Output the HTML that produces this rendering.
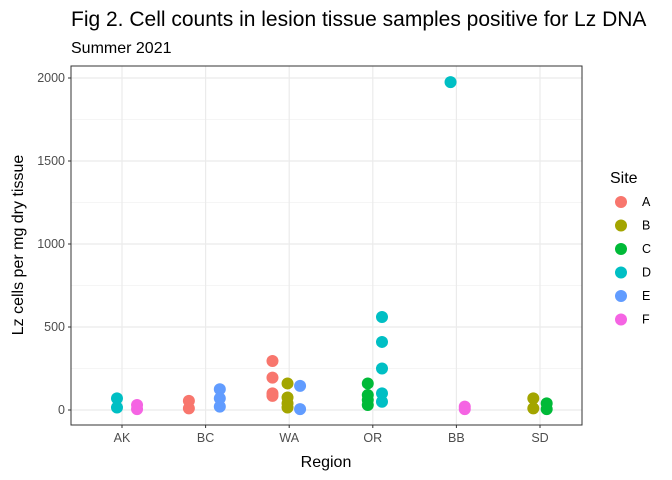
<!DOCTYPE html>
<html><head><meta charset="utf-8"><style>
body{margin:0;background:#fff;}
svg{display:block;font-family:"Liberation Sans",Arial,sans-serif;}
</style></head><body>
<svg id="chart" width="672" height="480" viewBox="0 0 672 480" xmlns="http://www.w3.org/2000/svg">
<rect width="672" height="480" fill="#fff"/>
<text x="71" y="26" font-size="21" fill="#000">Fig 2. Cell counts in lesion tissue samples positive for Lz DNA</text>
<text x="71" y="53" font-size="16" fill="#000">Summer 2021</text>
<g id="grid"></g>
<g id="points"></g>
<rect x="71" y="66" width="511" height="359" fill="none" stroke="#333" stroke-width="1"/>
<g id="axes"></g>
<text x="326" y="467" font-size="16" text-anchor="middle">Region</text>
<text transform="translate(23,245) rotate(-90)" font-size="16" text-anchor="middle">Lz cells per mg dry tissue</text>
<g id="legend"></g>
</svg>
<script>
const categories=["AK","BC","WA","OR","BB","SD"];
const sites=["A","B","C","D","E","F"];
const colors=["#F8766D","#A3A500","#00BA38","#00BFC4","#619CFF","#F564E3"];
const yTicks=[0,500,1000,1500,2000];
const ptRegion=["AK","AK","AK","AK","BC","BC","BC","BC","BC","WA","WA","WA","WA","WA","WA","WA","WA","WA","WA","OR","OR","OR","OR","OR","OR","OR","OR","OR","BB","BB","BB","SD","SD","SD","SD"];
const ptSite=["D","D","F","F","A","A","E","E","E","A","A","A","A","B","B","B","B","E","E","C","C","C","C","D","D","D","D","D","D","F","F","B","B","C","C"];
const ptValue=[70,15,30,5,55,10,125,70,20,295,195,100,85,160,75,40,15,145,5,160,90,60,30,560,410,250,100,50,1975,20,5,70,10,40,5];
const ptJitter=[-0.06,-0.06,0.18,0.18,-0.2,-0.2,0.17,0.17,0.17,-0.2,-0.2,-0.2,-0.2,-0.02,-0.02,-0.02,-0.02,0.13,0.13,-0.06,-0.06,-0.06,-0.06,0.11,0.11,0.11,0.11,0.11,-0.07,0.1,0.1,-0.08,-0.08,0.08,0.08];
const NS="http://www.w3.org/2000/svg";
const x0=71,x1=582,y0=66,y1=425;
const step=83.6;
function xv(i){return 122+step*i;}
function xs(c){return xv(categories.indexOf(c));}
function ys(v){return 410-(v)*(410-78)/2000;}
function mk(tag,attrs,parent){const e=document.createElementNS(NS,tag);for(const k in attrs)e.setAttribute(k,attrs[k]);parent.appendChild(e);return e;}
const grid=document.getElementById('grid'),axes=document.getElementById('axes'),pts=document.getElementById('points'),leg=document.getElementById('legend');
mk('rect',{x:x0,y:y0,width:x1-x0,height:y1-y0,fill:'#fff'},grid);
for(let i=0;i<yTicks.length-1;i++){const v=(yTicks[i]+yTicks[i+1])/2;
 const l=mk('line',{x1:x0,x2:x1,y1:ys(v),y2:ys(v),stroke:'#ebebeb','stroke-width':0.6},grid);
 
 }
yTicks.forEach(v=>{const l=mk('line',{x1:x0,x2:x1,y1:ys(v),y2:ys(v),stroke:'#ebebeb','stroke-width':1.2},grid);
 
 
 const t=mk('text',{x:x0-6,y:ys(v)+4,'font-size':12.5,'text-anchor':'end',fill:'#4d4d4d'},axes);t.textContent=v;
 
 
 mk('line',{x1:x0-3,x2:x0,y1:ys(v),y2:ys(v),stroke:'#333'},axes);});
categories.forEach((c,i)=>{const x=xv(i);
 const l=mk('line',{x1:x,x2:x,y1:y0,y2:y1,stroke:'#ebebeb','stroke-width':1.2},grid);
 
 
 mk('line',{x1:x,x2:x,y1:y1,y2:y1+3,stroke:'#333'},axes);
 const t=mk('text',{x:x,y:y1+17,'font-size':12.5,'text-anchor':'middle',fill:'#4d4d4d'},axes);t.textContent=c;
 
 });
ptValue.forEach((v,i)=>{const cx=xs(ptRegion[i])+ptJitter[i]*step;
 const p=mk('circle',{cx:cx,cy:ys(v),r:6,fill:colors[sites.indexOf(ptSite[i])]},pts);
 
 });
const lt=mk('text',{x:610,y:183,'font-size':16},leg);lt.textContent='Site';


sites.forEach((s,i)=>{const y=202+i*23.5;
 const g=mk('g',{},leg);
 
 
 mk('circle',{cx:621,cy:y,r:6,fill:colors[i]},g);
 const t=mk('text',{x:642,y:y+4,'font-size':12.5},g);t.textContent=s;});
</script>
</body></html>
